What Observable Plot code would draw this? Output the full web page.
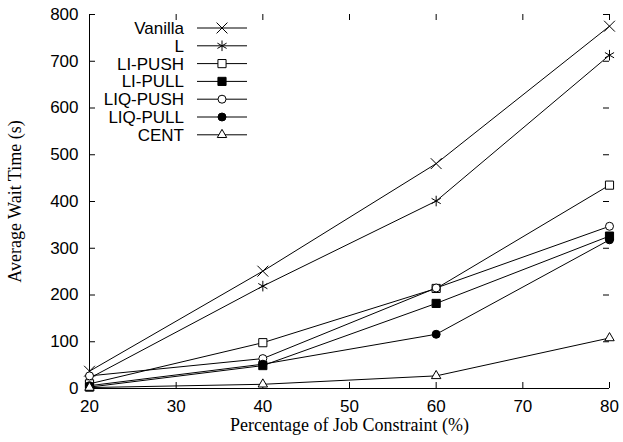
<!DOCTYPE html>
<html>
<head>
<meta charset="utf-8">
<script src="https://cdn.jsdelivr.net/npm/d3@7"></script>
<script src="https://cdn.jsdelivr.net/npm/@observablehq/plot@0.6"></script>
<style>
  html, body { margin: 0; padding: 0; background: #fff; }
  #chart svg { display: block; }
</style>
</head>
<body>
<div id="chart"></div>
<script>
// ---- data ----
const xValues = [20, 40, 60, 80];
const seriesNames = ["Vanilla", "L", "LI-PUSH", "LI-PULL", "LIQ-PUSH", "LIQ-PULL", "CENT"];
const vanilla = [37, 251, 481, 775];
const lSeries = [22, 219, 401, 713];
const liPush  = [10, 98, 214, 435];
const liPull  = [3, 49, 182, 326];
const liqPush = [27, 64, 215, 347];
const liqPull = [6, 52, 116, 318];
const cent    = [2, 9, 27, 108];
const xTickValues = [20, 30, 40, 50, 60, 70, 80];
const yTickValues = [0, 100, 200, 300, 400, 500, 600, 700, 800];
const xLabel = "Percentage of Job Constraint (%)";
const yLabel = "Average Wait Time (s)";

const seriesValues = [vanilla, lSeries, liPush, liPull, liqPush, liqPull, cent];
const table = seriesNames.flatMap((name, s) =>
  xValues.map((x, i) => ({series: name, x, y: seriesValues[s][i]})));

// ---- styles ----
const markerStyle = {
  "Vanilla":  {symbol: "times",    r: 5,   fill: "none"},
  "L":        {symbol: "asterisk", r: 5,   fill: "none"},
  "LI-PUSH":  {symbol: "square",   r: 4.6, fill: "white"},
  "LI-PULL":  {symbol: "square",   r: 4.6, fill: "black"},
  "LIQ-PUSH": {symbol: "circle",   r: 4,   fill: "white"},
  "LIQ-PULL": {symbol: "circle",   r: 4,   fill: "black"},
  "CENT":     {symbol: "triangle", r: 3.5, fill: "white"}
};

const W = 623, H = 442;
const mL = 89, mR = 14, mT = 14, mB = 54;
const pw = W - mL - mR, ph = H - mT - mB;
const tickLen = 6;
const serif = "'Liberation Serif', 'Times New Roman', serif";

const dotMarks = seriesNames.map(name => {
  const st = markerStyle[name];
  return Plot.dot(table.filter(d => d.series === name), {
    x: "x", y: "y", symbol: st.symbol, r: st.r,
    fill: st.fill, stroke: "black", strokeWidth: 1
  });
});

const svg = Plot.plot({
  width: W, height: H,
  marginLeft: mL, marginRight: mR, marginTop: mT, marginBottom: mB,
  style: {fontFamily: "'Liberation Sans', Arial, sans-serif", fontSize: "17px", background: "white", color: "black"},
  x: {domain: [20, 80], ticks: xTickValues, tickSize: 0, tickPadding: 11, label: null},
  y: {domain: [0, 800], ticks: yTickValues, tickSize: 0, tickPadding: 11, label: null},
  marks: [
    // inward ticks on all four sides
    Plot.tickY(yTickValues, {y: d => d, insetRight: pw - tickLen, stroke: "black"}),
    Plot.tickY(yTickValues, {y: d => d, insetLeft: pw - tickLen, stroke: "black"}),
    Plot.tickX(xTickValues, {x: d => d, insetTop: ph - tickLen, stroke: "black"}),
    Plot.tickX(xTickValues, {x: d => d, insetBottom: ph - tickLen, stroke: "black"}),
    Plot.ruleY([0], {stroke: "black"}),
    Plot.ruleX([20], {stroke: "black"}),
    Plot.line(table, {x: "x", y: "y", z: "series", stroke: "black", strokeWidth: 1}),
    ...dotMarks,
    Plot.text([xLabel], {text: d => d, frameAnchor: "bottom", dy: 37,
      textAnchor: "middle", lineAnchor: "middle",
      fontFamily: serif, fontSize: 18, fill: "black"}),
    Plot.text([yLabel], {text: d => d, frameAnchor: "left", dx: -74, rotate: -90,
      textAnchor: "middle", lineAnchor: "middle",
      fontFamily: serif, fontSize: 18, fill: "black"})
  ]
});

// ---- legend inside plot (top-left) ----
const sel = d3.select(svg);
const lg = sel.append("g").attr("class", "legend");
const rowY0 = 28, rowStep = 17.8;
const symMap = {
  times: d3.symbolTimes, asterisk: d3.symbolAsterisk, square: d3.symbolSquare,
  circle: d3.symbolCircle, triangle: d3.symbolTriangle
};
seriesNames.forEach((name, i) => {
  const y = rowY0 + i * rowStep;
  const st = markerStyle[name];
  lg.append("text").attr("x", 184).attr("y", y + 6)
    .attr("text-anchor", "end")
    .style("font-family", "'Liberation Sans', Arial, sans-serif")
    .style("font-size", "17px").attr("fill", "black").text(name);
  lg.append("line").attr("x1", 197).attr("x2", 247).attr("y1", y).attr("y2", y)
    .attr("stroke", "black").attr("stroke-width", 1);
  lg.append("path")
    .attr("transform", `translate(222,${y})`)
    .attr("d", d3.symbol(symMap[st.symbol], st.r * st.r * Math.PI)())
    .attr("fill", st.fill).attr("stroke", "black").attr("stroke-width", 1);
});

document.getElementById("chart").appendChild(svg);
</script>
</body>
</html>
